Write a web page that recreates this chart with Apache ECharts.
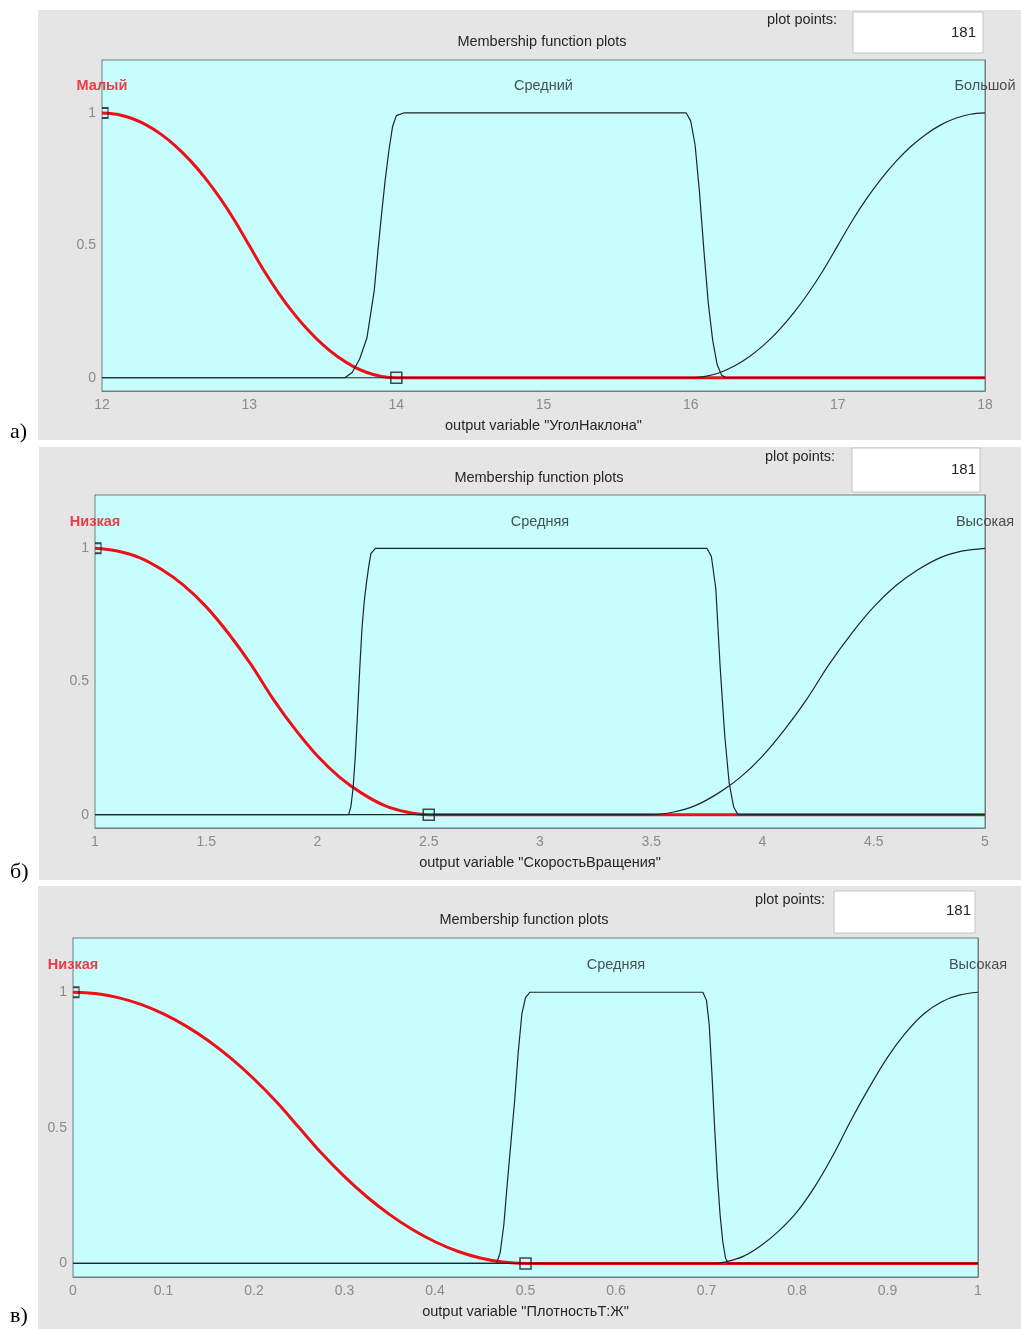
<!DOCTYPE html>
<html><head><meta charset="utf-8">
<script src="https://cdn.jsdelivr.net/npm/echarts@6/dist/echarts.min.js"></script>
<style>html,body{margin:0;padding:0;background:#fff;}#c{width:1021px;height:1329px;}</style>
</head><body><div id="c"></div>
<script>
// ---------- Panel а) output variable "УголНаклона" ----------
const aXTicks = [12, 18, 1];
const aNames = ['Малый', 'Средний', 'Большой'];
const aNameX = [12, 15, 18];
const aLow = [[12,1],[12.1,0.995],[12.2,0.98],[12.3,0.955],[12.4,0.92],[12.5,0.875],[12.6,0.82],[12.7,0.755],[12.8,0.68],[12.9,0.595],[13,0.5],[13.1,0.405],[13.2,0.32],[13.3,0.245],[13.4,0.18],[13.5,0.125],[13.6,0.08],[13.7,0.045],[13.8,0.02],[13.9,0.005],[14,0],[18,0]];
const aMid = [[12,0],[13.65,0],[13.7,0.02],[13.75,0.07],[13.8,0.15],[13.85,0.33],[13.875,0.48],[13.9,0.62],[13.925,0.75],[13.95,0.86],[13.975,0.95],[14,0.99],[14.05,1],[15.97,1],[16,0.97],[16.03,0.88],[16.06,0.7],[16.09,0.48],[16.12,0.28],[16.15,0.14],[16.18,0.05],[16.21,0.01],[16.24,0],[18,0]];
const aHigh = [[12,0],[16,0],[16.1,0.005],[16.2,0.02],[16.3,0.045],[16.4,0.08],[16.5,0.125],[16.6,0.18],[16.7,0.245],[16.8,0.32],[16.9,0.405],[17,0.5],[17.1,0.595],[17.2,0.68],[17.3,0.755],[17.4,0.82],[17.5,0.875],[17.6,0.92],[17.7,0.955],[17.8,0.98],[17.9,0.995],[18,1]];
const aMarks = [[12,1],[14,0]];
const aTitle = 'output variable "УголНаклона"';

// ---------- Panel б) output variable "СкоростьВращения" ----------
const bXTicks = [1, 5, 0.5];
const bNames = ['Низкая', 'Средняя', 'Высокая'];
const bNameX = [1, 3, 5];
const bLow = [[1,1],[1.1,0.99],[1.2,0.965],[1.3,0.92],[1.4,0.86],[1.5,0.78],[1.6,0.68],[1.7,0.565],[1.8,0.435],[1.9,0.32],[2,0.22],[2.1,0.14],[2.2,0.08],[2.3,0.035],[2.4,0.01],[2.5,0],[5,0]];
const bMid = [[1,0],[2.14,0],[2.15,0.03],[2.16,0.1],[2.17,0.22],[2.18,0.38],[2.19,0.55],[2.2,0.7],[2.21,0.8],[2.22,0.87],[2.23,0.93],[2.24,0.98],[2.26,1],[3.75,1],[3.77,0.97],[3.79,0.85],[3.81,0.55],[3.83,0.3],[3.85,0.12],[3.87,0.03],[3.89,0],[5,0]];
const bHigh = [[1,0],[3.5,0],[3.6,0.01],[3.7,0.035],[3.8,0.08],[3.9,0.14],[4,0.22],[4.1,0.32],[4.2,0.435],[4.3,0.565],[4.4,0.68],[4.5,0.78],[4.6,0.86],[4.7,0.92],[4.8,0.965],[4.9,0.99],[5,1]];
const bMarks = [[1,1],[2.5,0]];
const bTitle = 'output variable "СкоростьВращения"';

// ---------- Panel в) output variable "ПлотностьТ:Ж" ----------
const cXTicks = [0, 1, 0.1];
const cNames = ['Низкая', 'Средняя', 'Высокая'];
const cNameX = [0, 0.6, 1];
const cLow = [[0,1],[0.025,0.995],[0.05,0.98],[0.075,0.955],[0.1,0.92],[0.125,0.875],[0.15,0.82],[0.175,0.755],[0.2,0.68],[0.225,0.595],[0.25,0.5],[0.275,0.405],[0.3,0.32],[0.325,0.245],[0.35,0.18],[0.375,0.125],[0.4,0.08],[0.425,0.045],[0.45,0.02],[0.475,0.005],[0.5,0],[1,0]];
const cMid = [[0,0],[0.468,0],[0.472,0.04],[0.476,0.14],[0.48,0.3],[0.484,0.45],[0.488,0.6],[0.492,0.78],[0.496,0.92],[0.5,0.98],[0.505,1],[0.696,1],[0.7,0.97],[0.703,0.88],[0.706,0.7],[0.709,0.5],[0.712,0.32],[0.715,0.18],[0.718,0.08],[0.721,0.02],[0.724,0],[1,0]];
const cHigh = [[0,0],[0.71,0],[0.72,0.005],[0.74,0.025],[0.76,0.065],[0.78,0.12],[0.8,0.19],[0.82,0.285],[0.84,0.4],[0.86,0.53],[0.88,0.65],[0.9,0.76],[0.92,0.85],[0.94,0.92],[0.96,0.965],[0.98,0.99],[1,1]];
const cMarks = [[0,1],[0.5,0]];
const cTitle = 'output variable "ПлотностьТ:Ж"';

const yRange = [-0.05, 1.2];
const yTickValues = [0, 0.5, 1];
const nameLevel = 1.1;
const plotPoints = '181';
const panelLetters = ['а)', 'б)', 'в)'];

// ---------- styling / layout ----------
const GRAY = '#e5e5e5', CYAN = '#c8fdfd', AX = '#6e8080', TXT = '#262626', TICKTXT = '#8a8a8a';
const RED = '#ec1019', BLK = '#1d2828';
const FONT = '"Liberation Sans", Arial, sans-serif';
const FS = 14.5;

const panels = [
  {grid:{left:102, top:60, width:883, height:331}, ticks:aXTicks, names:aNames, nameX:aNameX, low:aLow, mid:aMid, high:aHigh, marks:aMarks, title:aTitle,
   bg:[38,10,983,430], head:[542,42], pp:[767,20], box:[853,12,130,41], num:[976,33], letter:432},
  {grid:{left:95, top:495, width:890, height:333}, ticks:bXTicks, names:bNames, nameX:bNameX, low:bLow, mid:bMid, high:bHigh, marks:bMarks, title:bTitle,
   bg:[39,447,982,433], head:[539,478], pp:[765,457], box:[852,448,128,44], num:[976,470], letter:872},
  {grid:{left:73, top:938, width:905, height:339}, ticks:cXTicks, names:cNames, nameX:cNameX, low:cLow, mid:cMid, high:cHigh, marks:cMarks, title:cTitle,
   bg:[38,886,983,443], head:[524,920], pp:[755,900], box:[834,891,141,42], num:[971,911], letter:1316}
];

const grids = [], xAxes = [], yAxes = [], series = [], graphics = [];
panels.forEach((p, i) => {
  grids.push(Object.assign({show:true, backgroundColor:CYAN, borderColor:AX, borderWidth:1, z:1}, p.grid));
  const xi = i*2;
  xAxes.push({type:'value', gridIndex:i, min:p.ticks[0], max:p.ticks[1], interval:p.ticks[2], position:'bottom',
    axisLine:{show:true, onZero:false, lineStyle:{color:AX, width:1}},
    axisTick:{show:true, inside:true, length:9, lineStyle:{color:AX}},
    axisLabel:{color:TICKTXT, fontSize:14, fontFamily:FONT, margin:7, showMinLabel:true, showMaxLabel:true},
    splitLine:{show:false},
    name:p.title, nameLocation:'middle', nameGap:27, nameTextStyle:{color:TXT, fontSize:FS, fontFamily:FONT}});
  xAxes.push({type:'value', gridIndex:i, min:p.ticks[0], max:p.ticks[1], interval:p.ticks[2], position:'top',
    axisLine:{show:true, onZero:false, lineStyle:{color:AX}},
    axisTick:{show:true, inside:true, length:8, lineStyle:{color:AX}},
    axisLabel:{show:false}, splitLine:{show:false}});
  yAxes.push({type:'value', gridIndex:i, min:yRange[0], max:yRange[1], position:'left',
    axisLine:{show:true, onZero:false, lineStyle:{color:AX}},
    axisTick:{show:true, inside:true, length:6, customValues:yTickValues, lineStyle:{color:AX}},
    axisLabel:{color:TICKTXT, fontSize:14, fontFamily:FONT, margin:6, customValues:yTickValues},
    splitLine:{show:false}});
  yAxes.push({type:'value', gridIndex:i, min:yRange[0], max:yRange[1], position:'right',
    axisLine:{show:true, onZero:false, lineStyle:{color:AX}},
    axisTick:{show:true, inside:true, length:6, customValues:yTickValues, lineStyle:{color:AX}},
    axisLabel:{show:false, customValues:yTickValues}, splitLine:{show:false}});

  const base = {type:'line', xAxisIndex:xi, yAxisIndex:xi, showSymbol:false, symbol:'none', animation:false, silent:true, z:3};
  series.push(Object.assign({}, base, {data:p.low, smooth:0.35, lineStyle:{color:RED, width:3}}));
  series.push(Object.assign({}, base, {data:p.mid, smooth:false, lineStyle:{color:BLK, width:1.2}, z:4}));
  series.push(Object.assign({}, base, {data:p.high, smooth:0.35, lineStyle:{color:BLK, width:1.2}, z:4}));
  // vertex markers of the selected (red) membership function
  series.push({type:'scatter', xAxisIndex:xi, yAxisIndex:xi, silent:true, animation:false, z:5,
    data:[
      {value:p.marks[0], symbol:'path://M0,0L6,0L6,12L0,12', symbolSize:[6,10], symbolOffset:[3,0], symbolKeepAspect:false},
      {value:p.marks[1], symbol:'rect', symbolSize:11}
    ],
    itemStyle:{color:'rgba(0,0,0,0)', borderColor:'#1a1a1a', borderWidth:1.5}});
  // MF names
  series.push({type:'scatter', xAxisIndex:xi, yAxisIndex:xi, silent:true, animation:false, z:6, symbolSize:0,
    data:p.names.map((n, k) => ({value:[p.nameX[k], nameLevel], name:n,
      label:{show:true, position:'inside', formatter:n, fontFamily:FONT, fontSize:FS,
        color: k===0 ? RED : TXT, fontWeight: k===0 ? 'bold' : 'normal'}}))});

  graphics.push({type:'rect', shape:{x:p.bg[0], y:p.bg[1], width:p.bg[2], height:p.bg[3]}, style:{fill:GRAY}, z:-100, silent:true});
  graphics.push({type:'rect', shape:{x:p.box[0], y:p.box[1], width:p.box[2], height:p.box[3]}, style:{fill:'#ffffff', stroke:'#c4c4c4', lineWidth:1}, z:10, silent:true});
  graphics.push({type:'text', x:p.head[0], y:p.head[1], style:{text:'Membership function plots', fill:TXT, font:FS+'px '+FONT, textAlign:'center', textVerticalAlign:'middle'}, z:10, silent:true});
  graphics.push({type:'text', x:p.pp[0], y:p.pp[1], style:{text:'plot points:', fill:TXT, font:FS+'px '+FONT, textAlign:'left', textVerticalAlign:'middle'}, z:10, silent:true});
  graphics.push({type:'text', x:p.num[0], y:p.num[1], style:{text:plotPoints, fill:TXT, font:'15px '+FONT, textAlign:'right', textVerticalAlign:'middle'}, z:11, silent:true});
  graphics.push({type:'text', x:10, y:p.letter, style:{text:panelLetters[i], fill:'#000', font:'22px "Liberation Serif", "Times New Roman", serif', textAlign:'left', textVerticalAlign:'middle'}, z:10, silent:true});
});

const chart = echarts.init(document.getElementById('c'), null, {renderer:'canvas'});
chart.setOption({animation:false, backgroundColor:'#ffffff', grid:grids, xAxis:xAxes, yAxis:yAxes, series:series, graphic:{elements:graphics}});
</script>
</body></html>
